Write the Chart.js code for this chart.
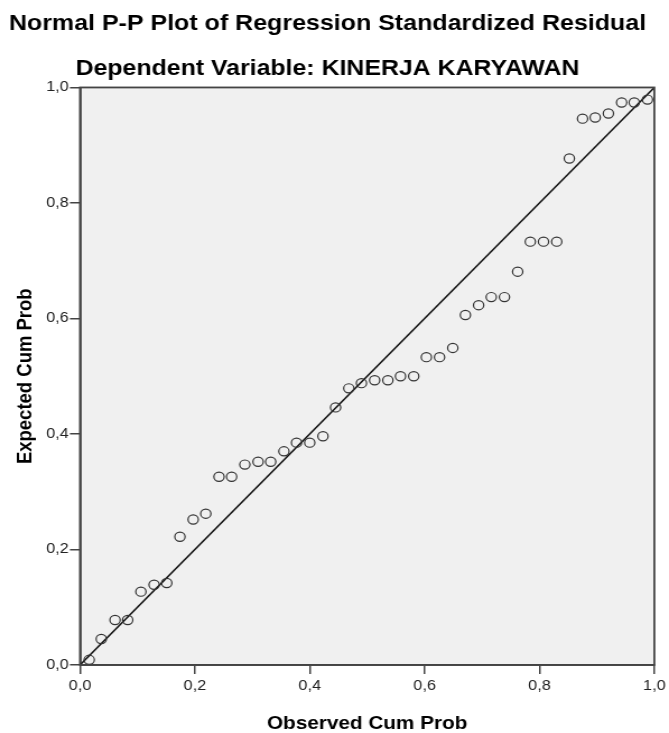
<!DOCTYPE html>
<html>
<head>
<meta charset="utf-8">
<script src="https://cdn.jsdelivr.net/npm/chart.js@4"></script>
<style>
  html, body { margin: 0; padding: 0; background: #ffffff; overflow: hidden; }
  /* the SPSS export is slightly stretched sideways, so draw narrower and widen */
  #wrap { width: 597px; height: 733px; transform: scaleX(1.1206); transform-origin: 0 0; }
</style>
</head>
<body>
<div id="wrap"><canvas id="ppChart"></canvas></div>
<script>
// observed cumulative probability (x) and expected cumulative probability (y)
const observedCum = [0.016, 0.037, 0.061, 0.083, 0.106, 0.129, 0.151, 0.174, 0.197, 0.219,
    0.242, 0.264, 0.287, 0.310, 0.332, 0.355, 0.377, 0.400, 0.423, 0.445,
    0.468, 0.490, 0.513, 0.536, 0.558, 0.581, 0.603, 0.626, 0.649, 0.671,
    0.694, 0.716, 0.739, 0.762, 0.784, 0.807, 0.830, 0.852, 0.875, 0.897,
    0.920, 0.943, 0.965, 0.988];
const expectedCum = [0.009, 0.045, 0.078, 0.078, 0.127, 0.139, 0.142, 0.222, 0.252, 0.262,
    0.326, 0.326, 0.347, 0.352, 0.352, 0.370, 0.385, 0.385, 0.396, 0.446,
    0.479, 0.488, 0.493, 0.493, 0.500, 0.500, 0.533, 0.533, 0.549, 0.606,
    0.623, 0.637, 0.637, 0.681, 0.733, 0.733, 0.733, 0.877, 0.946, 0.948,
    0.955, 0.974, 0.974, 0.979];
const refLineX = [0, 1];
const refLineY = [0, 1];

const points = observedCum.map((x, i) => ({ x: x, y: expectedCum[i] }));
const refLine = refLineX.map((x, i) => ({ x: x, y: refLineY[i] }));

const FONT = 'Liberation Sans, Arial, sans-serif';

// grey plot background + frame like SPSS
const plotFrame = {
    id: 'plotFrame',
    beforeDraw(chart) {
        const a = chart.chartArea;
        const ctx = chart.ctx;
        ctx.save();
        ctx.fillStyle = '#f0f0f0';
        ctx.fillRect(a.left, a.top, a.right - a.left, a.bottom - a.top);
        ctx.restore();
    },
    afterDraw(chart) {
        const a = chart.chartArea;
        const ctx = chart.ctx;
        ctx.save();
        ctx.strokeStyle = '#444444';
        ctx.lineWidth = 1.8;
        ctx.strokeRect(a.left, a.top, a.right - a.left, a.bottom - a.top);
        ctx.restore();
    }
};

function commaTick(v) {
    return v.toFixed(1).replace('.', ',');
}

function axisBase(labelPad) {
    return {
        type: 'linear',
        min: 0,
        max: 1,
        grid: { drawOnChartArea: false, drawTicks: true, tickLength: 9, color: '#444444', lineWidth: 1.5 },
        border: { display: true, color: '#444444', width: 1.8 },
        ticks: {
            stepSize: 0.2,
            color: '#222222',
            padding: labelPad,
            font: { family: FONT, size: 14.5 },
            callback: commaTick
        }
    };
}

new Chart(document.getElementById('ppChart'), {
    type: 'scatter',
    data: {
        datasets: [{
            label: 'Residuals',
            data: points,
            pointStyle: 'circle',
            pointRadius: 4.6,
            pointBackgroundColor: 'rgba(0,0,0,0)',
            pointBorderColor: '#333333',
            pointBorderWidth: 1.2,
            showLine: false
        }, {
            label: 'Reference',
            data: refLine,
            showLine: true,
            borderColor: '#111111',
            borderWidth: 1.5,
            pointRadius: 0
        }]
    },
    options: {
        responsive: true,
        maintainAspectRatio: false,
        animation: false,
        layout: { padding: { left: 0, right: 12.5, top: 0, bottom: 0 } },
        plugins: {
            legend: { display: false },
            tooltip: { enabled: false },
            title: {
                display: true,
                text: 'Normal P-P Plot of Regression Standardized Residual',
                color: '#000000',
                font: { family: FONT, size: 22.3, weight: 'bold', lineHeight: 1.2 },
                padding: { top: 10.4, bottom: 20.6 }
            },
            subtitle: {
                display: true,
                text: 'Dependent Variable: KINERJA KARYAWAN',
                color: '#000000',
                font: { family: FONT, size: 22.2, weight: 'bold', lineHeight: 1 },
                padding: { top: 0, bottom: 7.5 }
            }
        },
        scales: {
            x: Object.assign(axisBase(3), {
                title: {
                    display: true,
                    text: 'Observed Cum Prob',
                    color: '#000000',
                    font: { family: FONT, size: 18.5, weight: 'bold', lineHeight: 1 },
                    padding: { top: 0, bottom: 0 }
                },
                afterFit: function (scale) { scale.height = 68; }
            }),
            y: Object.assign(axisBase(1), {
                title: {
                    display: true,
                    text: 'Expected Cum Prob',
                    color: '#000000',
                    font: { family: FONT, size: 18.5, weight: 'bold', lineHeight: 1.2 },
                    padding: { top: 12, bottom: 12 }
                },
                afterFit: function (scale) { scale.width = 71.4; }
            })
        }
    },
    plugins: [plotFrame]
});
</script>
</body>
</html>
